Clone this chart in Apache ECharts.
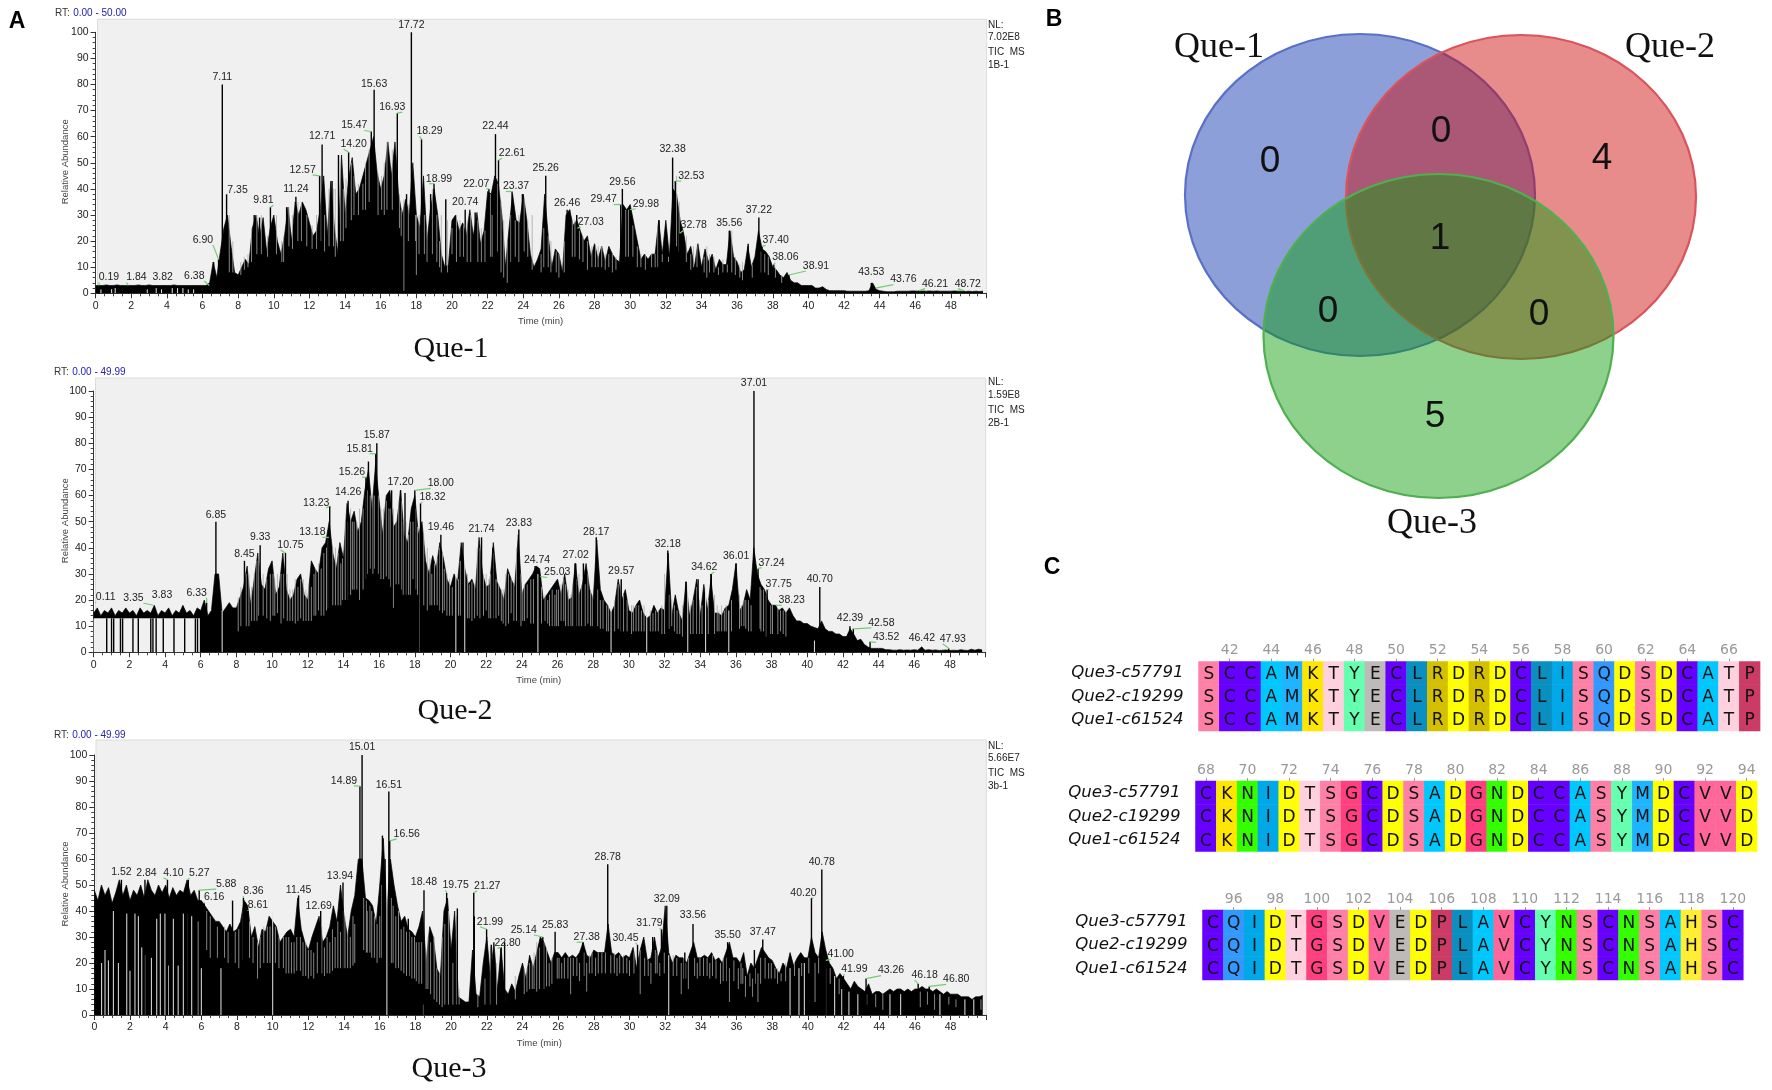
<!DOCTYPE html>
<html><head><meta charset="utf-8">
<style>html,body{margin:0;padding:0;background:#fff}#c{width:1772px;height:1090px}</style>
<script src="https://cdn.jsdelivr.net/npm/echarts@6/dist/echarts.min.js"></script>
</head><body><div id="c"></div>
<script>
const trace1 = [
3,3,3,3.2,3, 3,3.2,3,3,3, 3,3,3.2,3,3, 3.2,3,3,3,3, 3,3,3.2,3,3, 3,3,3,3,3,
3,3,4,12,6, 16,25,30,18,8, 7,10,13,11,25, 30,22,29,16,25, 30,20,15,22,33, 20,35,30,35,32,
27,22,24,32,45, 22,43,25,15,53, 30,44,52,38,40, 45,50,55,60,46, 40,45,58,45,58, 38,30,36,30,50,
30,25,45,20,33, 40,30,15,10,11, 28,30,24,27,22, 32,22,31,19,24, 39,38,45,42,30, 10,25,38,28,27,
38,28,15,10,13, 17,38,22,10,17, 15,8,30,32,26, 28,24,20,22,14, 19,13,18,12,18, 15,13,12,34,32,
34,27,20,13,15, 13,15,15,28,15, 28,14,40,38,28, 23,15,18,10,19, 10,17,12,15,9, 13,11,11,24,14,
12,8,9,18,10, 14,24,17,16,14, 10,9,7,6,8, 5,4,4,3,3, 3,3,2,2,2.5, 1.5,1,1,1,1,
1,0.8,0.8,0.8,0.8, 0.8,0.8,1,4,1.5, 1,0.8,0.6,0.6,0.6, 0.8,0.8,0.8,0.8,0.9, 0.9,0.8,0.9,0.8,0.9, 0.8,0.9,0.8,0.8,0.8, 0.8,0.9,0.8,0.8,0.7, 0.8,0.7,0.8,0.7,0.8];
const trace2 = [
15,17,14,16,15, 17,14,16,15,17, 15,16,14,17,15, 16,15,18,14,16, 15,17,14,16,15, 18,15,16,14,17,
16,20,14,16,30, 30,15,17,19,17, 17,21,25,33,18, 28,38,26,24,32, 35,22,25,38,24, 20,22,28,30,22,
20,35,32,30,40, 42,50,38,32,42, 36,57,50,54,46, 50,62,70,55,72, 58,45,60,62,48, 50,62,45,42,55,
60,45,50,35,30, 37,32,42,36,28, 25,30,27,42,32, 26,28,24,44,30, 25,26,42,27,24, 20,32,28,25,45,
22,26,28,30,33, 32,20,22,24,26, 28,22,30,20,21, 34,22,26,34,24, 20,43,24,20,18, 15,18,28,20,24,
16,15,18,20,15, 13,14,18,15,17, 16,38,14,22,15, 12,27,14,20,28, 14,26,16,28,15, 15,14,17,18,24,
34,16,18,24,20, 40,30,26,24,20, 18,18,16,17,15, 17,14,12,12,11, 11,10,9.5,9,12, 9,8,8,7,7,
6,6,9,7,4.5, 5,3,2,1.5,1.5, 1.5,1.5,1,1,0.8, 0.8,1,0.8,0.9,0.8, 1,0.8,2,0.8,1, 0.8,0.9,0.7,0.8,0.9, 0.7,0.8,0.7,1,0.8, 0.7,1.2,0.8,1.2,0.9];
const trace3 = [
48,44,50,46,49, 43,47,52,46,50, 44,48,46,50,45, 52,48,46,50,47, 50,45,49,46,48, 47,52,46,48,44,
44,42,40,38,36, 36,34,32,35,32, 33,36,44,42,30, 34,26,33,32,38, 36,34,28,30,32, 33,30,45,33,28,
25,30,34,38,28, 30,34,42,36,50, 38,30,40,46,60, 60,45,44,42,35, 50,68,40,60,50, 42,36,38,33,32,
30,34,40,20,34, 30,18,15,40,45, 25,40,7,6,5, 5,25,8,7,20, 30,15,28,10,26, 10,8,12,9,15,
20,14,23,18,24, 30,28,24,20,24, 24,22,24,22,23, 22,24,28,23,22, 25,24,24,24,35, 24,23,24,22,23,
22,26,18,25,30, 21,22,30,22,26, 42,24,20,23,22, 22,20,24,28,22, 22,23,22,24,21, 22,20,24,28,22,
22,20,24,15,20, 18,22,26,24,22, 21,18,16,20,18, 24,19,22,24,22, 22,30,24,22,32, 25,20,18,14,16,
14,12,10,13,11, 10,9,12,8,9, 9,8,9,10,9, 10,10,9,10,9, 10,10,11,10,10, 9,10,9,8,9, 8,8,8,7,7, 7,6,7,7,7.5];

// labelled peaks: [retention time, relative abundance]
const peaks1 = [[0.19,3],[1.84,3],[3.82,3],[6.38,3],[6.90,13],[7.11,80],[7.35,38],[9.81,33],[11.24,37],[12.57,45],[12.71,57],[14.20,54],[15.47,62],[15.63,78],[16.93,69],[17.72,100],[18.29,59],[18.99,42],[20.74,32],[22.07,40],[22.44,61],[22.61,51],[23.37,39],[25.26,45],[26.46,32],[27.03,25],[29.47,34],[29.56,40],[29.98,32],[32.38,52],[32.53,43],[32.78,23],[35.56,24],[37.22,29],[37.40,18],[38.06,11],[38.91,7],[43.53,4],[43.76,2],[46.21,1],[48.72,1]];
const peaks2 = [[0.11,19],[3.35,18],[3.83,19],[6.33,19],[6.85,50],[8.45,35],[9.33,41],[10.75,38],[13.18,44],[13.23,56],[14.26,58],[15.26,67],[15.81,76],[15.87,80],[17.20,62],[18.00,62],[18.32,57],[19.46,45],[21.74,44],[23.83,47],[24.74,33],[25.03,29],[27.02,34],[28.17,44],[29.57,28],[32.18,39],[34.62,30],[36.01,34],[37.01,100],[37.24,32],[37.75,24],[38.23,18],[40.70,25],[42.39,10],[42.58,9],[43.52,4],[46.42,2],[47.93,1.5]];
const peaks3 = [[1.52,52],[2.84,52],[4.10,52],[5.27,52],[5.88,48],[6.16,43],[8.36,45],[8.61,40],[11.45,46],[12.69,40],[13.94,51],[14.89,88],[15.01,100],[16.51,86],[16.56,67],[18.48,48],[19.75,47],[21.27,47],[21.99,33],[22.80,26],[25.14,30],[25.83,32],[27.38,28],[28.78,58],[30.45,27],[31.79,33],[32.09,42],[33.56,35],[35.50,28],[37.47,29],[40.20,45],[40.78,56],[41.00,21],[41.99,15],[43.26,14],[46.18,12],[46.80,11]];

// unlabelled peaks: [retention time, relative abundance]
const extra1 = [[6.62,12],[8.9,30],[9.2,29],[10.72,33],[13.27,43],[13.63,53],[16.45,52],[17.45,38],[18.8,38],[19.65,36],[21.3,31],[23.95,38],[26.6,32],[27.0,30],[31.62,28],[36.62,19]];
const extra2 = [[0.73,13],[1.0,13],[1.12,13],[1.5,13],[1.62,13],[2.2,13],[2.5,13],[3.2,13],[3.32,13],[3.5,13],[3.9,13],[4.5,13],[5.1,13],[5.7,13],[5.82,13],[15.4,73],[16.7,62],[17.45,61],[20.7,42],[22.37,40],[26.98,34],[27.45,34],[33.2,27],[33.88,28],[34.6,30],[37.1,33]];
const extra3 = [[6.6,36],[7.75,44],[16.15,69],[16.3,60],[17.6,37],[20.35,41],[21.3,38],[23.0,28],[22.25,27],[31.3,30],[33.1,24],[37.0,25]];

// light streaks inside the black mass: [time, from abundance, to abundance]
const dips1 = [[0.3,0,1.5],[0.9,0,1.6],[1.1,0,2],[2.9,0,1.5],[3.4,0,2],[3.7,0,1.5],[4.3,0,2],[4.6,0,2],[4.9,0,2],[5.2,0,1.5],[5.5,0,1.5],[17.3,1,36],[18.0,7,30],[16.2,30,50],[15.0,32,42],[13.45,14,40],[12.4,17,30],[13.9,20,40],[19.4,8,30],[20.0,15,25],[22.25,14,30],[22.75,8,35],[23.1,4,20],[24.5,9,30],[25.0,8,15],[26.0,6,15],[27.6,9,20],[28.2,10,18],[28.6,9,15],[29.0,8,15],[30.6,10,15],[31.2,10,15],[31.8,12,15],[33.4,9,15],[34.3,6,18],[34.7,8,14],[35.2,8,13],[36.3,5,12],
[7.5,8,30],[7.7,8,20],[8.15,7,12],[8.35,9,14],[8.55,10,15],[8.75,12,25],[9.05,15,30],[9.3,15,30],[9.65,14,22],[10.15,15,30],[10.45,12,20],[10.55,12,22],[10.85,18,33],[11.05,17,30],[11.35,20,35],[11.55,20,35],[11.85,18,30],[12.15,17,26],[12.65,20,45],[12.85,16,30],[13.1,18,40],[13.35,18,40],[13.75,20,50],[14.05,25,44],[14.35,28,50],[14.5,30,45],[14.75,30,42],[15.15,32,50],[15.35,35,55],[15.85,30,46],[16.05,32,45],[16.35,32,58],[16.65,32,55],[17.05,25,38],[17.15,22,32],[17.55,20,34],[17.95,20,30],[18.15,15,30],[18.45,15,30],[18.6,12,25],[18.9,15,40],[19.15,12,30],[19.3,10,20],[19.75,8,28],[20.25,12,30],[20.45,14,28],[20.65,14,26],[20.85,12,28],[21.05,12,30],[21.45,12,28],[21.65,12,25],[21.85,12,24],[22.15,14,38],[22.55,16,42],[22.9,6,28],[23.3,12,30],[23.55,14,28],[23.75,12,30],[24.05,16,36],[24.25,14,28],[25.15,10,25],[25.4,10,22],[25.55,8,20],[25.85,8,16],[26.3,8,20],[26.75,14,28],[26.9,14,28],[27.15,13,24],[27.35,12,22],[27.85,10,18],[28.05,10,18],[28.4,10,18],[28.8,10,15],[29.2,9,14],[29.75,14,32],[29.9,14,32],[30.15,14,26],[30.4,10,18],[30.85,9,15],[31.4,10,15],[31.55,10,25],[32.15,12,14],[32.6,18,45],[32.75,16,35],[33.15,12,22],[33.55,10,18],[33.75,10,18],[34.15,8,14],[34.45,8,15],[34.95,7,10],[35.45,8,11],[35.7,8,24],[35.9,7,14],[36.15,6,11],[36.85,6,11],[37.35,8,16],[37.55,8,15],[37.75,7,14],[38.15,6,10],[38.5,4,7]];
const dips2 = [[7.2,0,16],[8.1,8,21],[8.7,10,30],[9.0,12,30],[9.5,14,30],[9.9,12,30],[10.3,15,30],[10.5,11,30],[11.0,12,24],[11.3,11,28],[11.6,13,28],[12.2,12,25],[12.6,16,34],[12.9,14,38],[13.4,18,40],[13.7,18,38],[14.1,20,50],[14.6,24,50],[14.9,20,55],[15.1,24,55],[15.5,32,60],[16.1,28,55],[16.4,29,58],[16.8,17,55],[17.1,26,58],[17.5,22,50],[17.9,28,50],[18.3,0,50],[18.7,16,40],[19.1,18,34],[19.4,16,40],[19.8,14,30],[20.3,0,30],[20.8,0,35],[21.2,12,27],[21.5,14,40],[22.0,16,30],[22.4,13,38],[22.7,14,26],[23.1,10,30],[23.4,15,28],[23.7,12,40],[24.3,13,26],[24.9,0,30],[25.3,12,22],[25.7,10,24],[26.2,12,26],[26.6,10,24],[27.2,10,30],[27.7,11,30],[28.4,9,20],[29.0,0,18],[29.4,9,26],[29.9,8,20],[30.4,8,18],[31.0,0,16],[31.5,8,16],[32.0,7,30],[32.4,10,20],[33.0,6,18],[33.3,0,26],[33.8,7,25],[34.3,0,25],[34.8,7,22],[35.2,8,18],[35.6,0,16],[36.3,10,18],[36.7,8,20],[37.4,8,24],[37.7,6,22],[38.5,8,16],[40.4,0,4.5],
[8.25,10,25],[8.55,10,30],[8.85,12,25],[9.15,12,35],[9.25,14,38],[9.7,13,28],[10.05,14,30],[10.15,14,28],[10.65,13,30],[10.85,12,30],[11.15,12,24],[11.45,12,25],[11.75,12,28],[11.9,12,24],[12.05,12,26],[12.35,14,30],[12.45,14,32],[12.75,14,32],[13.05,16,40],[13.15,17,44],[13.55,18,40],[13.85,18,34],[13.95,20,36],[14.25,20,50],[14.4,22,55],[14.5,24,50],[14.75,24,50],[15.25,28,60],[15.35,30,62],[15.65,30,60],[15.75,32,60],[15.95,30,60],[16.25,28,55],[16.55,28,55],[16.65,25,55],[16.95,26,50],[17.25,24,58],[17.35,22,50],[17.65,22,45],[17.75,22,50],[18.05,24,55],[18.15,22,48],[18.5,18,45],[18.85,18,36],[18.95,18,30],[19.25,18,36],[19.55,15,38],[19.65,16,32],[19.95,14,28],[20.1,14,25],[20.45,14,28],[20.55,14,35],[20.95,13,30],[21.05,13,26],[21.35,13,26],[21.65,13,40],[21.85,14,30],[22.15,13,28],[22.25,13,30],[22.55,13,28],[22.85,12,24],[22.95,11,24],[23.25,11,30],[23.55,12,26],[23.95,10,30],[24.05,12,24],[24.15,12,26],[24.5,11,28],[24.65,11,28],[25.1,11,25],[25.45,11,20],[25.55,10,22],[25.85,10,22],[25.95,10,24],[26.05,10,24],[26.35,12,28],[26.45,10,26],[26.75,10,22],[26.85,10,26],[27.05,10,28],[27.35,10,26],[27.55,10,26],[27.85,10,24],[27.95,10,22],[28.25,10,24],[28.55,9,20],[28.75,8,18],[28.85,8,18],[29.2,8,20],[29.55,8,26],[29.7,8,22],[30.15,7,18],[30.25,8,18],[30.55,8,18],[30.7,8,16],[30.85,8,18],[31.2,8,16],[31.35,8,15],[31.65,8,16],[31.85,7,18],[32.25,9,22],[32.55,8,18],[32.7,7,16],[32.85,7,16],[33.45,7,18],[33.6,7,20],[33.95,7,20],[34.1,7,18],[34.45,7,20],[34.95,8,18],[35.05,8,16],[35.35,8,16],[35.45,8,18],[35.75,8,20],[36.2,9,22],[36.45,10,20],[36.55,9,20],[36.85,8,18],[37.35,9,25],[37.55,8,24],[37.95,7,18],[38.05,7,18],[38.35,7,17],[38.65,7,16],[38.8,6,16]];
const dips3 = [[0.41,0,20],[0.6,0,25],[0.79,0,21],[1.07,0,40],[1.35,0,20],[1.82,0,39],[2.0,0,17],[2.28,0,39],[2.47,0,38],[2.66,0,26],[2.85,0,23],[3.2,0,22],[3.5,0,37],[3.7,0,39],[3.96,0,39],[4.15,0,19],[4.43,0,37],[4.7,0,19],[4.99,0,39],[5.27,0,39],[5.46,0,38],[5.83,0,36],[6.0,0,18],[7.1,0,18],[8.35,21,40],[9.15,14,28],[9.5,20,34],[10.0,0,40],[10.6,18,30],[10.9,16,30],[11.2,16,28],[11.7,15,28],[12.0,14,25],[12.3,14,24],[12.5,16,28],[12.9,15,26],[13.2,16,28],[13.5,18,30],[13.8,18,32],[14.2,18,32],[14.6,20,35],[15.3,24,40],[15.7,22,38],[16.0,22,38],[16.4,0,50],[16.9,18,38],[17.2,17,33],[17.5,15,32],[17.8,14,30],[18.2,12,28],[18.45,0,4],[18.7,10,30],[19.2,5,18],[19.5,3,30],[20.1,4,20],[20.3,4,38],[21.5,3,8],[21.9,4,14],[22.2,4,26],[22.55,4,20],[23.0,5,10],[23.6,6,15],[24.1,8,18],[24.4,10,20],[24.8,9,28],[25.2,10,28],[25.5,11,20],[26.2,14,20],[26.7,8,22],[27.2,13,20],[27.6,9,20],[28.1,15,22],[29.3,15,22],[30.0,15,21],[30.6,8,25],[31.2,12,20],[31.7,15,20],[32.2,0,23],[32.9,8,20],[33.3,10,22],[33.8,14,20],[34.5,14,20],[35.1,12,20],[35.6,5,18],[36.1,10,18],[36.5,7,15],[36.9,7,14],[37.2,5,16],[37.8,14,20],[38.3,12,18],[39.0,0,18],[39.5,0,18],[39.8,0,20],[40.4,5,20],[41.0,0,18],[41.5,0,15],[41.9,0,10],[42.3,0,9],[42.8,0,8],[43.3,4,8],[43.8,3,8],[44.2,2,8],[44.6,0,8],[45.2,0,8],[46.3,3,9],[46.7,4,9],[47.1,2,8],[47.4,0,8],[47.9,4,7],[48.3,3,6],[48.8,0,6],[49.3,0,6],[49.7,2,6],
[6.3,25,40],[6.5,22,38],[6.9,22,34],[7.3,22,34],[7.5,20,32],[7.9,20,32],[8.1,18,33],[8.7,22,36],[8.9,20,30],[9.3,18,30],[9.7,20,34],[9.85,20,34],[10.15,20,34],[10.35,18,30],[10.75,16,30],[11.05,16,28],[11.35,17,30],[11.55,17,30],[11.85,15,28],[12.15,15,25],[12.75,16,34],[13.05,16,30],[13.35,17,33],[13.65,18,36],[13.95,18,40],[14.05,18,38],[14.35,18,30],[14.5,19,38],[15.1,25,45],[15.25,24,44],[15.45,24,42],[15.55,22,40],[15.85,20,35],[16.1,22,50],[16.65,20,45],[16.75,20,42],[17.05,18,40],[17.35,16,34],[17.65,15,32],[17.95,14,30],[18.05,13,28],[18.35,12,28],[18.6,10,25],[18.85,8,28],[19.05,6,30],[19.35,4,16],[19.65,4,35],[19.85,4,40],[20.45,4,10],[24.25,9,18],[24.55,10,20],[24.65,10,24],[24.95,10,26],[25.35,11,26],[25.65,12,22],[25.95,14,22],[26.05,14,22],[26.35,14,22],[26.55,14,22],[26.85,15,22],[27.05,15,22],[27.45,15,24],[27.75,16,23],[27.9,16,24],[28.25,16,24],[28.45,16,24],[28.65,16,24],[28.95,16,23],[29.15,16,24],[29.45,16,23],[29.65,16,23],[29.85,16,22],[30.25,16,24],[30.45,15,24],[30.85,15,22],[31.05,15,21],[31.45,16,25],[31.55,16,24],[31.95,16,24],[32.45,15,23],[32.65,15,22],[33.05,14,22],[33.15,14,20],[33.65,15,22],[33.95,15,22],[34.15,15,22],[34.35,15,22],[34.65,15,23],[34.85,14,21],[35.25,13,22],[35.45,13,22],[35.85,13,21],[36.25,12,20],[36.35,12,18],[36.75,11,16],[37.05,12,18],[37.35,12,22],[37.6,14,22],[37.95,14,20],[38.15,14,18],[38.5,13,16],[38.75,13,20],[39.25,15,20],[39.65,15,20],[40.05,16,22],[40.6,16,22],[41.25,12,18],[41.75,8,14]];
// band in trace 2 before 6 min floats above the baseline: [from time, to time, band floor]
const gap2 = [0,5.95,13];

const rtRanges = ['0.00 - 50.00','0.00 - 49.99','0.00 - 49.99'];
const nlValues = ['7.02E8','1.59E8','5.66E7'];
const fileNames = ['1B-1','2B-1','3b-1'];
const sampleNames = ['Que-1','Que-2','Que-3'];

// ---------- Panel B data
const vennSets = ['Que-1','Que-2','Que-3'];
const vennCounts = [0,0,4,1,0,0,5]; // only 1, 1&2, only 2, all, 1&3, 2&3, only 3

// ---------- Panel C data
const speciesNames = ['Que1-c61524','Que2-c19299','Que3-c57791'];
const seqBlock1 = 'SCCAMKTYECLRDRDCLISQDSDCATP';
const seqBlock2 = 'CKNIDTSGCDSADGNDCCASYMDCVVD';
const seqBlock3 = 'CQIDTGSDVEDPLAVCYNSCNSAHSC';
const seqStarts = [41,68,95];

// ---------- Layout and style (not data)
const labelShift1 = [[10,-8],[8,-8],[-1,-8],[-15,-9.5],[-15.6,-19.5],[0,-7],[11,-4.5],[-7,-7],[0,-8],[-17,-6],[0,-8],[5,-8],[-17,-6],[0,-6],[-5,-6],[0,-7],[8,-8],[5,-5],[0,-8],[-12.6,-5],[0,-8],[13.5,-7],[4,-5],[0,-8],[0,-7],[13.5,-6],[-17,-5],[0,-7],[16,-6],[0,-8],[16,-5],[14,-8],[0,-8],[0,-8],[13.6,-6],[11.5,-7],[27,-9],[0,-11],[28,-8.5],[16,-7],[4,-7]];
const labelShift2 = [[10,-6],[-20,-7],[0,-8],[-10,-10],[0,-7],[0,-7],[0,-8],[5,-8],[-16.5,-5],[-13.5,-3],[0,-9],[-14,-5],[-16,-5],[0,-8],[0,-8],[26,-7],[12,-6.5],[0,-8],[0,-8],[0,-6],[2,-6],[17,-4],[0,-8],[0,-5],[0,-8],[0,-6],[-7,-7],[0,-7],[0,-8],[13.5,-6],[11.6,-5],[16,-5],[0,-8],[0,-8],[28,-6],[16,-4.5],[0,-9],[4,-9.7]];
const labelShift3 = [[0,-8],[1.5,-7],[6,-7],[11,-7],[27,-6],[10,-6],[10,-7],[10,-6],[0,-5.4],[-2,-5],[-3,-6],[-16,-5.4],[0,-8],[0,-6.6],[17,-7],[0,-8],[9,-7.5],[13.5,-7],[3.4,-7.5],[6.5,-4],[-19,-7],[0,-6.4],[4,-5],[0,-7],[-12,-7],[-12,-5.6],[0,-7],[0,-8.7],[0,-7.5],[0,-7.5],[-8,-5],[0,-7],[15,-6],[11,-7],[25,-8],[6.5,-8.6],[27,-7]];

const BG='#f0f0f0', SANS='"Liberation Sans",Arial,sans-serif', SERIF='"Liberation Serif","Times New Roman",serif', DJ='"DejaVu Sans",sans-serif';
const chromLayout=[
 {left:95.6,top:32.3,width:891,height:261,bgL:97.5,bgT:19.3,rtY:13,nlY:[25,37,52,65],capX:451,capY:349,rtX:55},
 {left:93.7,top:391,width:892,height:261.3,bgL:95.5,bgT:378,rtY:372,nlY:[382,395,410,423],capX:455,capY:711,rtX:54},
 {left:94.3,top:755,width:892,height:260,bgL:96,bgT:740,rtY:735,nlY:[746.7,758,773,786],capX:449,capY:1069,rtX:54}];
const heatLayout=[
 {left:1198.5,top:661.5,width:561.6,height:69.5},
 {left:1195.5,top:781,width:561.6,height:70.5},
 {left:1202.5,top:910,width:540.8,height:70}];
const residueColors={S:'#ff80a6',C:'#6600ff',A:'#00c8ff',M:'#1eb4ff',K:'#ffe600',T:'#ffd0de',Y:'#66ffb0',E:'#bdbab8',L:'#0a8fc0',R:'#d4c000',D:'#ffff00',I:'#00a8e8',Q:'#3399ff',P:'#cc3a66',N:'#33ff00',G:'#ff4080',V:'#ff6699',H:'#ffee33'};
const vennShape=[
 {cx:1360,cy:195,rx:175,ry:161,fill:'rgba(10,51,172,0.47)',stroke:'#5a70c8'},
 {cx:1521,cy:197,rx:175,ry:162,fill:'rgba(206,8,8,0.47)',stroke:'#d9545c'},
 {cx:1438.5,cy:336,rx:175,ry:162,fill:'rgba(13,157,13,0.47)',stroke:'#4fb04f'}];
const vennCountPos=[[1270,162],[1441,132],[1602,159],[1440,239],[1328,312],[1539,315],[1435,417]];
const vennNamePos=[[1219,48],[1670,48],[1432,524]];

const grids=[],xAxes=[],yAxes=[],series=[],graphics=[];
const traces=[trace1,trace2,trace3], peaks=[peaks1,peaks2,peaks3], extras=[extra1,extra2,extra3], dips=[dips1,dips2,dips3], shifts=[labelShift1,labelShift2,labelShift3];

chromLayout.forEach((g,i)=>{
  grids.push({left:g.left,top:g.top,width:g.width,height:g.height,containLabel:false});
  xAxes.push({type:'value',gridIndex:i,min:0,max:50,interval:2,splitLine:{show:false},
    axisLine:{onZero:false,lineStyle:{color:'#333',width:1}},axisTick:{length:5,lineStyle:{color:'#333'}},
    minorTick:{show:true,splitNumber:4,length:3,lineStyle:{color:'#444'}},
    axisLabel:{fontFamily:SANS,fontSize:10.5,color:'#222',margin:7,showMaxLabel:false,formatter:v=>v>48?'':String(v)}});
  yAxes.push({type:'value',gridIndex:i,min:0,max:100,interval:10,splitLine:{show:false},
    axisLine:{show:true,lineStyle:{color:'#333',width:1}},axisTick:{show:true,length:5,lineStyle:{color:'#333'}},
    minorTick:{show:true,splitNumber:5,length:3,lineStyle:{color:'#444'}},
    axisLabel:{fontFamily:SANS,fontSize:10.5,color:'#222',margin:7}});
  const data=traces[i].map((v,k)=>[+(k*0.2).toFixed(1),v]);
  series.push({type:'line',name:sampleNames[i]+' TIC',xAxisIndex:i,yAxisIndex:i,data,symbol:'none',silent:true,z:2,
    lineStyle:{color:'#000',width:0.7},areaStyle:{color:'#000',opacity:1,origin:'start'}});
  const clear = i===1 ? gap2 : null;
  series.push({type:'custom',name:sampleNames[i]+' streaks',xAxisIndex:i,yAxisIndex:i,z:3,silent:true,clip:true,
    data:(clear?[[clear[0],clear[2],clear[1]]]:[]).concat(dips[i].map(d=>[d[0],d[1],d[2]])),
    encode:{x:0,y:1},
    renderItem:(p,api)=>{
      if(clear && p.dataIndex===0){
        const a=api.coord([api.value(0),api.value(1)]), b=api.coord([api.value(2),0]);
        return {type:'rect',shape:{x:a[0],y:a[1],width:b[0]-a[0],height:b[1]-a[1]},style:{fill:BG}};
      }
      const a=api.coord([api.value(0),api.value(1)]), b=api.coord([api.value(0),api.value(2)]);
      const deep=api.value(1)===0;
      return {type:'line',shape:{x1:a[0],y1:a[1],x2:b[0],y2:b[1]},style:{stroke:deep?'#e6e6e6':'#a8a8a8',lineWidth:deep?1:0.8}};
    }});
  const labelled = clear ? peaks[i].filter(p=>p[0]>=clear[1]) : peaks[i];
  series.push({type:'bar',name:sampleNames[i]+' peaks',xAxisIndex:i,yAxisIndex:i,z:4,silent:true,barWidth:1.4,
    data:labelled.concat(extras[i]).sort((a,b)=>a[0]-b[0]),itemStyle:{color:'#000'}});
  series.push({type:'custom',name:sampleNames[i]+' labels',xAxisIndex:i,yAxisIndex:i,z:5,silent:true,clip:false,
    data:peaks[i].map(p=>[p[0],p[1]]),encode:{x:0,y:1},
    renderItem:(p,api)=>{
      const pt=api.coord([api.value(0),api.value(1)]), s=shifts[i][p.dataIndex];
      const cx=pt[0]+s[0], cy=pt[1]+s[1], kids=[];
      if(Math.abs(s[0])>=3.4){
        const ex=s[0]>0?cx-10:cx+10;
        kids.push({type:'line',shape:{x1:pt[0],y1:pt[1],x2:ex,y2:cy+5},style:{stroke:'#6fcf6f',lineWidth:1.2}});
      }
      kids.push({type:'text',style:{text:api.value(0).toFixed(2),x:cx,y:cy,align:'center',verticalAlign:'middle',font:'10.5px '+SANS,fill:'#222'}});
      return {type:'group',children:kids};
    }});
  // plot background and free text of each trace
  const bottom=g.top+g.height, right=g.left+g.width;
  graphics.push({type:'rect',z:-10,silent:true,shape:{x:g.bgL,y:g.bgT,width:right-g.bgL,height:bottom-g.bgT},style:{fill:BG,stroke:'#dcdcdc',lineWidth:1}});
  graphics.push({type:'text',x:g.rtX,y:g.rtY,style:{text:'{a|RT:} {b|'+rtRanges[i]+'}',verticalAlign:'middle',rich:{a:{font:'10px '+SANS,fill:'#333'},b:{font:'10px '+SANS,fill:'#2222b0'}}}});
  ['NL:',nlValues[i],'TIC  MS',fileNames[i]].forEach((t,k)=>graphics.push({type:'text',x:988,y:g.nlY[k],style:{text:t,font:'10px '+SANS,fill:'#222',verticalAlign:'middle'}}));
  graphics.push({type:'text',x:g.left+445,y:bottom+28.5,style:{text:'Time (min)',font:'9.5px '+SANS,fill:'#444',align:'center',verticalAlign:'middle'}});
  graphics.push({type:'text',x:65,y:(g.top+g.height/2)-1,rotation:Math.PI/2,style:{text:'Relative Abundance',font:'9.5px '+SANS,fill:'#444',align:'center',verticalAlign:'middle'}});
  graphics.push({type:'text',x:g.capX,y:g.capY,style:{text:sampleNames[i],font:'30px '+SERIF,fill:'#111',align:'center',verticalAlign:'middle'}});
});

// Panel C: alignment heatmaps
[seqBlock1,seqBlock2,seqBlock3].forEach((seq,b)=>{
  const gi=grids.length, L=heatLayout[b];
  grids.push({left:L.left,top:L.top,width:L.width,height:L.height});
  const positions=seq.split('').map((_,k)=>String(seqStarts[b]+k));
  const even=(idx)=>(seqStarts[b]+idx)%2===0;
  xAxes.push({type:'category',gridIndex:gi,position:'top',data:positions,axisLine:{show:false},
    axisTick:{show:true,alignWithLabel:true,interval:even,length:3,lineStyle:{color:'#999'}},
    axisLabel:{interval:even,fontFamily:DJ,fontSize:14,color:'#999',margin:4},splitLine:{show:false}});
  yAxes.push({type:'category',gridIndex:gi,data:speciesNames,axisLine:{show:false},axisTick:{show:false},splitLine:{show:false},
    axisLabel:{fontFamily:DJ,fontStyle:'italic',fontSize:16.6,color:'#111',margin:15,padding:[0,0,7,0]}});
  const cells=[];
  speciesNames.forEach((sp,r)=>seq.split('').forEach((ch,k)=>cells.push({name:ch,value:[k,r,1],itemStyle:{color:residueColors[ch]}})));
  series.push({type:'heatmap',name:'alignment '+(b+1),xAxisIndex:gi,yAxisIndex:gi,data:cells,silent:true,
    label:{show:true,formatter:p=>p.name,fontFamily:DJ,fontSize:17,color:'#111',offset:[0,1.5]},itemStyle:{borderWidth:0},emphasis:{disabled:true}});
});

// Panel B: Venn diagram on a hidden pixel-unit axis pair
const vi=grids.length;
grids.push({left:0,top:0,width:1772,height:1090,show:false});
xAxes.push({type:'value',gridIndex:vi,min:0,max:1772,show:false});
yAxes.push({type:'value',gridIndex:vi,min:0,max:1090,inverse:true,show:false});
series.push({type:'custom',name:'venn sets',xAxisIndex:vi,yAxisIndex:vi,silent:true,clip:false,z:2,
  data:vennSets.map((n,k)=>({name:n,value:[vennShape[k].cx,vennShape[k].cy]})),encode:{x:0,y:1},
  renderItem:(p,api)=>{const s=vennShape[p.dataIndex],c=api.coord([api.value(0),api.value(1)]);
    return {type:'ellipse',shape:{cx:c[0],cy:c[1],rx:s.rx,ry:s.ry},style:{fill:s.fill,stroke:s.stroke,lineWidth:2.2}};}});
series.push({type:'custom',name:'venn counts',xAxisIndex:vi,yAxisIndex:vi,silent:true,clip:false,z:6,
  data:vennCounts.map((n,k)=>[vennCountPos[k][0],vennCountPos[k][1],n]),encode:{x:0,y:1},
  renderItem:(p,api)=>{const c=api.coord([api.value(0),api.value(1)]);
    return {type:'text',style:{text:String(api.value(2)),x:c[0],y:c[1],align:'center',verticalAlign:'middle',font:'37px '+SANS,fill:'#111'}};}});
vennSets.forEach((n,k)=>graphics.push({type:'text',x:vennNamePos[k][0],y:vennNamePos[k][1],z:20,style:{text:n,font:'36px '+SERIF,fill:'#111',align:'center',verticalAlign:'middle'}}));

[['A',17,22],['B',1054,20],['C',1052,568]].forEach(a=>graphics.push({type:'text',x:a[1],y:a[2],style:{text:a[0],font:'bold 23px '+SANS,fill:'#000',align:'center',verticalAlign:'middle'}}));

const chart=echarts.init(document.getElementById('c'),null,{width:1772,height:1090});
chart.setOption({animation:false,backgroundColor:'#fff',tooltip:{show:false},legend:{show:false},
  grid:grids,xAxis:xAxes,yAxis:yAxes,series,graphic:{elements:graphics}});
</script></body></html>
